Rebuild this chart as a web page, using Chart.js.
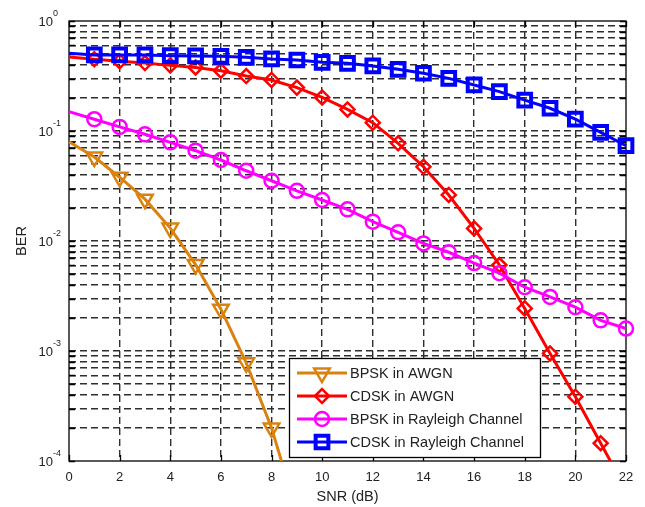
<!DOCTYPE html>
<html>
<head>
<meta charset="utf-8">
<script src="https://cdn.jsdelivr.net/npm/chart.js@4.4.1/dist/chart.umd.min.js"></script>
<style>
  html, body { margin: 0; padding: 0; background: #fff; }
</style>
</head>
<body>
<canvas id="ber" width="645" height="507"></canvas>
<script>
// ── data ──
const snr = [0, 1, 2, 3, 4, 5, 6, 7, 8, 9, 10, 11, 12, 13, 14, 15, 16, 17, 18, 19, 20, 21, 22];

// BPSK in AWGN runs x = 0..9 (last point falls below the axis)
const bpskAwgn = [0.080, 0.058, 0.038, 0.024, 0.0131, 0.0061, 0.0024, 0.00078, 0.00020, 0.000034];
const cdskAwgn = [0.47, 0.45, 0.43, 0.415, 0.395, 0.378, 0.353, 0.316, 0.291, 0.248, 0.202, 0.157,
                  0.119, 0.0773, 0.0473, 0.0262, 0.0130, 0.00605, 0.00244, 0.00095, 0.000384, 0.000145, 0.000055];
const bpskRayleigh = [0.150, 0.128, 0.109, 0.0933, 0.0789, 0.0662, 0.0545, 0.0435, 0.0353, 0.0286, 0.0236, 0.0194,
                      0.0150, 0.0120, 0.0095, 0.0079, 0.0063, 0.0051, 0.0038, 0.0031, 0.0025, 0.0019, 0.0016];
const cdskRayleigh = [0.508, 0.491, 0.491, 0.491, 0.484, 0.481, 0.478, 0.468, 0.452, 0.442, 0.421, 0.412,
                      0.390, 0.364, 0.335, 0.301, 0.262, 0.228, 0.191, 0.161, 0.128, 0.0973, 0.0735];

const seriesLabels = ['BPSK in AWGN', 'CDSK in AWGN', 'BPSK in Rayleigh Channel', 'CDSK in Rayleigh Channel'];

const xTicks = [0, 2, 4, 6, 8, 10, 12, 14, 16, 18, 20, 22];
const yDecades = [-4, -3, -2, -1, 0];
const yMinor = [2, 3, 4, 5, 6, 7, 8, 9];

const FONT = "'Liberation Sans', Arial, Helvetica, sans-serif";
const TEXT = '#222';

// grid values: every decade plus its 2..9 multiples
const yGrid = [];
yDecades.forEach(e => {
  yGrid.push(Math.pow(10, e));
  if (e < 0) yMinor.forEach(m => yGrid.push(m * Math.pow(10, e)));
});

const pts = (ys) => ys.map((y, i) => ({ x: snr[i], y }));
const noFirst = (r) => (ctx) => ctx.dataIndex === 0 ? 0 : r;

function series(label, data, color, style, radius, rotation, bw, order) {
  return {
    label, data: pts(data), order,
    borderColor: color, borderWidth: 3, tension: 0, fill: false,
    pointStyle: style, pointRotation: rotation,
    pointRadius: noFirst(radius), pointHoverRadius: noFirst(radius),
    pointBorderColor: color, pointBackgroundColor: 'rgba(0,0,0,0)', pointBorderWidth: bw,
    clip: { left: 2, top: 2, right: 12, bottom: 0 },
  };
}

const datasets = [
  series(seriesLabels[0], bpskAwgn, '#d9820f', 'triangle', 9, 180, 2.5, 4),
  series(seriesLabels[1], cdskAwgn, '#ff0000', 'rectRot', 7, 0, 2.5, 3),
  series(seriesLabels[2], bpskRayleigh, '#ff00ff', 'circle', 7, 0, 2.5, 2),
  series(seriesLabels[3], cdskRayleigh, '#0000ff', 'rect', 9, 0, 4, 1),
];

// box + inward tick marks, under the data
const axesBox = {
  id: 'axesBox',
  beforeDatasetsDraw(chart) {
    const { ctx, chartArea: a, scales: { x, y } } = chart;
    ctx.save();
    ctx.strokeStyle = '#000';
    ctx.lineWidth = 1.3;
    ctx.beginPath();
    yGrid.forEach(v => {
      const py = Math.round(y.getPixelForValue(v)) + 0.5;
      ctx.moveTo(a.left, py); ctx.lineTo(a.left + 6, py);
      ctx.moveTo(a.right, py); ctx.lineTo(a.right - 6, py);
    });
    xTicks.forEach(v => {
      const px = Math.round(x.getPixelForValue(v)) + 0.5;
      ctx.moveTo(px, a.bottom); ctx.lineTo(px, a.bottom - 6);
      ctx.moveTo(px, a.top); ctx.lineTo(px, a.top + 6);
    });
    ctx.stroke();
    ctx.strokeRect(a.left, a.top, a.right - a.left, a.bottom - a.top);
    ctx.restore();
  },
};

// "10^n" labels on the log axis
const logLabels = {
  id: 'logLabels',
  afterDraw(chart) {
    const { ctx, chartArea: a, scales: { y } } = chart;
    ctx.save();
    ctx.fillStyle = TEXT;
    yDecades.forEach(e => {
      const py = y.getPixelForValue(Math.pow(10, e));
      ctx.font = `13px ${FONT}`;
      ctx.textAlign = 'right';
      ctx.textBaseline = 'middle';
      ctx.fillText('10', a.left - 16, py + 1);
      ctx.font = `9px ${FONT}`;
      ctx.textAlign = 'left';
      ctx.fillText(String(e), a.left - 16, py - 7);
    });
    ctx.restore();
  },
};

function marker(ctx, ds, x, y) {
  ctx.save();
  ctx.strokeStyle = ds.pointBorderColor;
  ctx.fillStyle = 'rgba(0,0,0,0)';
  ctx.lineWidth = ds.pointBorderWidth;
  const opts = { pointStyle: ds.pointStyle, rotation: ds.pointRotation, radius: ds.pointRadius(({ dataIndex: 1 })), borderWidth: ds.pointBorderWidth };
  if (Chart.helpers && Chart.helpers.drawPoint) {
    Chart.helpers.drawPoint(ctx, opts, x, y);
  } else {
    ctx.beginPath(); ctx.arc(x, y, opts.radius, 0, Math.PI * 2); ctx.stroke();
  }
  ctx.restore();
}

// legend box inside the plot, lower right
const boxLegend = {
  id: 'boxLegend',
  afterDraw(chart) {
    const { ctx, chartArea: a } = chart;
    const left = a.left + 220, w = 251, h = 99, top = a.bottom - 4 - h;
    ctx.save();
    ctx.fillStyle = '#fff';
    ctx.fillRect(left, top, w, h);
    ctx.strokeStyle = '#000';
    ctx.lineWidth = 1.3;
    ctx.strokeRect(left + 0.5, top + 0.5, w, h);
    chart.data.datasets.forEach((ds, i) => {
      const ry = top + 15 + i * 23;
      ctx.strokeStyle = ds.borderColor;
      ctx.lineWidth = 3;
      ctx.beginPath();
      ctx.moveTo(left + 8, ry); ctx.lineTo(left + 58, ry);
      ctx.stroke();
      marker(ctx, ds, left + 33, ry);
      ctx.fillStyle = TEXT;
      ctx.font = `14.5px ${FONT}`;
      ctx.textAlign = 'left';
      ctx.textBaseline = 'middle';
      ctx.fillText(ds.label, left + 61, ry + 1);
    });
    ctx.restore();
  },
};

const edgeless = (lo, hi) => (ctx) =>
  (ctx.tick && (ctx.tick.value <= lo * 1.0001 || ctx.tick.value >= hi * 0.9999)) ? 'rgba(0,0,0,0)' : '#2e2e2e';

new Chart(document.getElementById('ber'), {
  type: 'line',
  data: { datasets },
  plugins: [axesBox, logLabels, boxLegend],
  options: {
    responsive: false,
    animation: false,
    devicePixelRatio: 1,
    layout: { padding: { top: 21, right: 19, left: 0, bottom: 0 } },
    plugins: { legend: { display: false }, tooltip: { enabled: false } },
    scales: {
      x: {
        type: 'linear', min: 0, max: 22,
        afterBuildTicks: s => { s.ticks = xTicks.map(v => ({ value: v })); },
        afterFit: s => { s.height = 46; },
        ticks: { font: { family: FONT, size: 13 }, color: TEXT, padding: 9, maxRotation: 0, autoSkip: false },
        grid: { color: edgeless(0, 22), lineWidth: 1.4, drawTicks: false },
        border: { display: false, dash: [7, 4] },
        title: { display: true, text: 'SNR (dB)', color: TEXT, font: { family: FONT, size: 14.5 }, padding: { top: 0, bottom: 1 } },
      },
      y: {
        type: 'logarithmic', min: 1e-4, max: 1,
        afterBuildTicks: s => { s.ticks = yGrid.map(v => ({ value: v })); },
        afterFit: s => { s.width = 69; },
        ticks: { display: false },
        grid: { color: edgeless(1e-4, 1), lineWidth: 1.4, drawTicks: false },
        border: { display: false, dash: [7, 4] },
        title: { display: true, text: 'BER', color: TEXT, font: { family: FONT, size: 14.5 }, padding: { top: 13, bottom: 0 } },
      },
    },
  },
});
</script>
</body>
</html>
